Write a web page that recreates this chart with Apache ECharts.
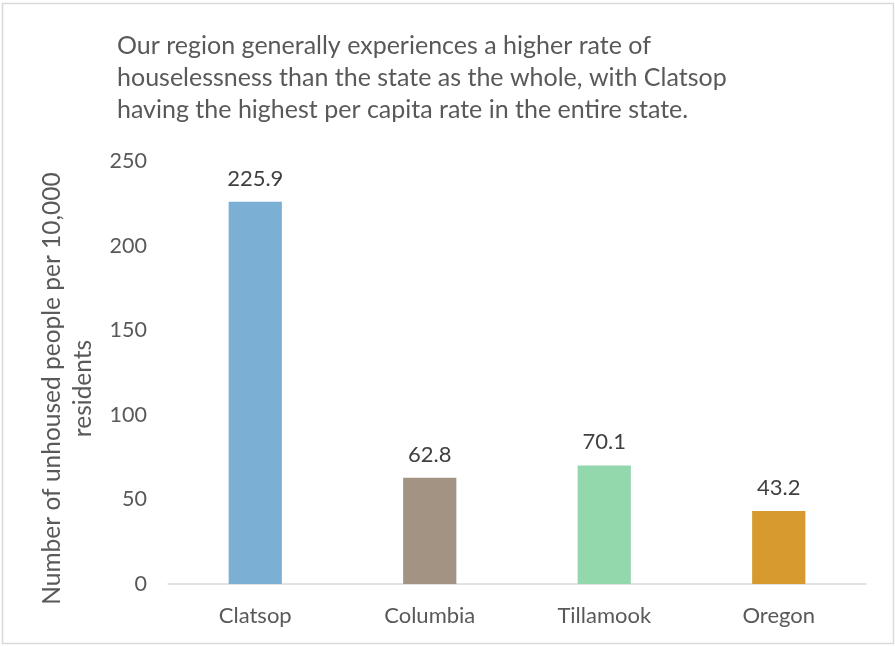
<!DOCTYPE html>
<html>
<head>
<meta charset="utf-8">
<title>Unhoused people per 10,000 residents</title>
<script src="https://cdn.jsdelivr.net/npm/echarts@6/dist/echarts.min.js"></script>
<style>
  html, body { margin: 0; padding: 0; background: #ffffff; }
  #chart { width: 895px; height: 646px; }
</style>
</head>
<body>
<div id="chart"></div>
<script>
// Areas compared
const categories = ['Clatsop', 'Columbia', 'Tillamook', 'Oregon'];
// Unhoused people per 10,000 residents
const rates = [225.9, 62.8, 70.1, 43.2];
// One fill per bar
const barColors = ['#7BAFD4', '#A39382', '#93D7AD', '#D69A2E'];
// Value axis ticks
const yTicks = [0, 50, 100, 150, 200, 250];

const headline = [
  'Our region generally experiences a higher rate of',
  'houselessness than the state as the whole, with Clatsop',
  'having the highest per capita rate in the entire state.'
];
const yTitle = 'Number of unhoused people per 10,000\nresidents';

const FONT = 'Lato, "Open Sans", sans-serif';

const chart = echarts.init(document.getElementById('chart'), null, { renderer: 'canvas' });

chart.setOption({
  backgroundColor: '#ffffff',
  animation: false,
  textStyle: { fontFamily: FONT },
  title: {
    text: headline.join('\n'),
    left: 117,
    top: 30,
    padding: 0,
    textStyle: {
      fontFamily: FONT,
      fontSize: 25,
      fontWeight: 'normal',
      color: '#595959',
      lineHeight: 32
    }
  },
  graphic: [{
    type: 'rect',
    shape: { x: 2.5, y: 3.5, width: 891, height: 640 },
    style: { fill: 'none', stroke: '#D9D9D9', lineWidth: 1.5 },
    silent: true
  }],
  grid: { left: 168, right: 29, top: 161, bottom: 62, containLabel: false },
  xAxis: {
    type: 'category',
    data: categories,
    axisLine: { show: true, lineStyle: { color: '#D9D9D9', width: 1.5 } },
    axisTick: { show: false },
    axisLabel: { color: '#595959', fontSize: 22, margin: 21, fontFamily: FONT }
  },
  yAxis: {
    type: 'value',
    min: yTicks[0],
    max: yTicks[yTicks.length - 1],
    interval: yTicks[1] - yTicks[0],
    name: yTitle,
    nameLocation: 'middle',
    nameRotate: 90,
    nameGap: 63,
    nameTextStyle: {
      color: '#595959', fontSize: 24.5, lineHeight: 31, fontFamily: FONT,
      padding: [0, 32, 0, 0]
    },
    axisLine: { show: false },
    axisTick: { show: false },
    splitLine: { show: false },
    axisLabel: { color: '#595959', fontSize: 21.5, margin: 21, fontFamily: FONT }
  },
  series: [{
    type: 'bar',
    data: rates.map((v, i) => ({ value: v, itemStyle: { color: barColors[i] } })),
    barWidth: '30.5%',
    label: {
      show: true,
      position: 'top',
      distance: 12,
      color: '#404040',
      fontSize: 22,
      fontFamily: FONT,
      formatter: p => p.value.toFixed(1)
    }
  }]
});
</script>
</body>
</html>
